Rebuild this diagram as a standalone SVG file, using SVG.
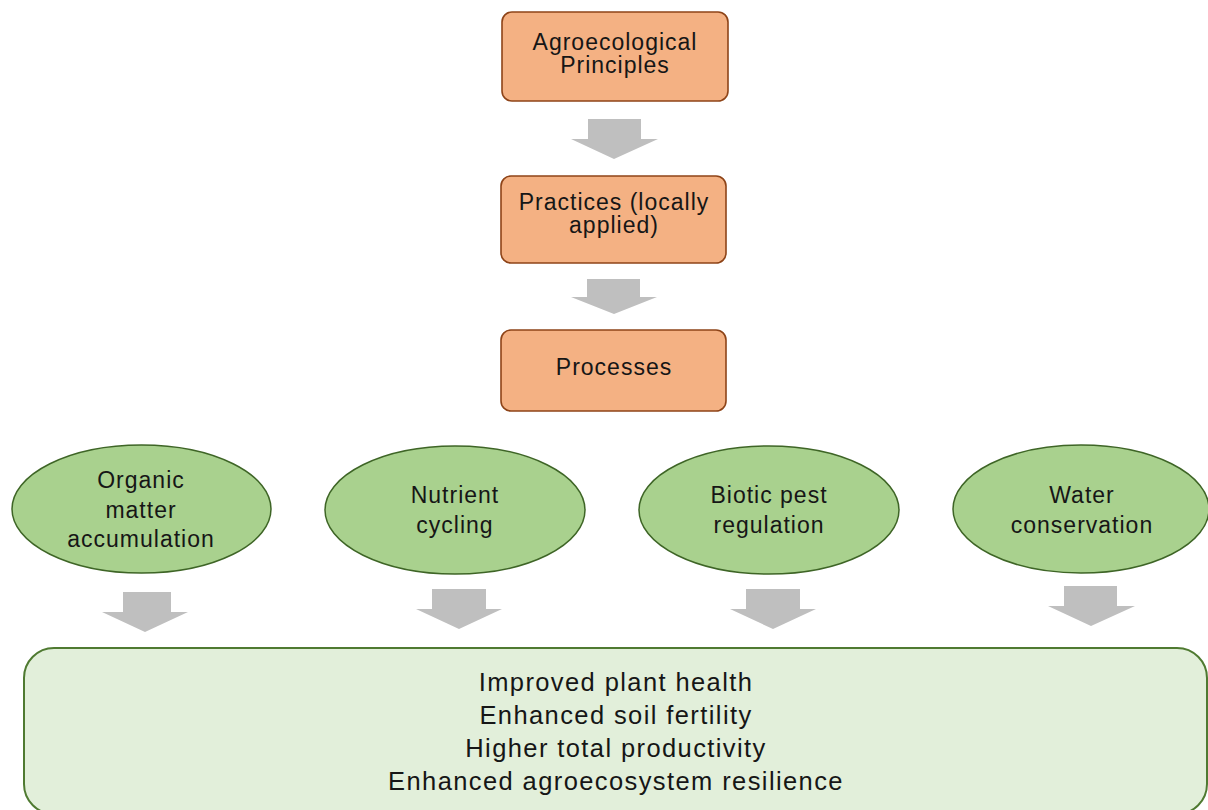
<svg xmlns="http://www.w3.org/2000/svg" width="1208" height="810" viewBox="0 0 1208 810">
  <style>
    text { font-family: "Liberation Sans", Arial, Helvetica, sans-serif; fill: #161616; text-anchor: middle; }
    .t { font-size: 23px; letter-spacing: 1px; }
    .tb { font-size: 25.5px; letter-spacing: 1.4px; }
    .box { fill: #F4B183; stroke: #8E4418; stroke-width: 1.6; }
    .oval { fill: #A9D18E; stroke: #3E6526; stroke-width: 1.5; }
    .result { fill: #E2EFDA; stroke: #4F7A31; stroke-width: 2; }
    .arrow { fill: #BFBFBF; }
  </style>

  <!-- block arrows between stages -->
  <g id="connectors">
    <path class="arrow" d="M588 119 H641 V139 H658 L614 159 L571 139 H588 Z"/>
    <path class="arrow" d="M587 279 H640 V297 H657 L614 314 L571 297 H587 Z"/>
    <path class="arrow" d="M123 592 H171 V612 H188 L145 632 L102 612 H123 Z"/>
    <path class="arrow" d="M432 589 H486 V609 H502 L459 629 L416 609 H432 Z"/>
    <path class="arrow" d="M746 589 H800 V609 H816 L773 629 L730 609 H746 Z"/>
    <path class="arrow" d="M1064 586 H1117 V606 H1135 L1091 626 L1048 606 H1064 Z"/>
  </g>

  <g id="principles">
    <rect class="box" x="502" y="12" width="226" height="89" rx="10"/>
    <text class="t" x="615" y="50">Agroecological</text>
    <text class="t" x="615" y="73">Principles</text>
  </g>

  <g id="practices">
    <rect class="box" x="501" y="176" width="225" height="87" rx="10"/>
    <text class="t" x="614" y="210">Practices (locally</text>
    <text class="t" x="614" y="233">applied)</text>
  </g>

  <g id="processes">
    <rect class="box" x="501" y="330" width="225" height="81" rx="10"/>
    <text class="t" x="614" y="375">Processes</text>
  </g>

  <g id="organic-matter">
    <ellipse class="oval" cx="141.5" cy="509" rx="129.5" ry="64"/>
    <text class="t" x="141" y="488">Organic</text>
    <text class="t" x="141" y="518">matter</text>
    <text class="t" x="141" y="547">accumulation</text>
  </g>

  <g id="nutrient-cycling">
    <ellipse class="oval" cx="455" cy="510" rx="130" ry="64"/>
    <text class="t" x="455" y="503">Nutrient</text>
    <text class="t" x="455" y="533">cycling</text>
  </g>

  <g id="pest-regulation">
    <ellipse class="oval" cx="769" cy="510" rx="130" ry="64"/>
    <text class="t" x="769" y="503">Biotic pest</text>
    <text class="t" x="769" y="533">regulation</text>
  </g>

  <g id="water-conservation">
    <ellipse class="oval" cx="1081" cy="509" rx="128" ry="64"/>
    <text class="t" x="1082" y="503">Water</text>
    <text class="t" x="1082" y="533">conservation</text>
  </g>

  <g id="outcomes">
    <rect class="result" x="24" y="648" width="1183" height="166" rx="30"/>
    <text class="tb" x="616" y="691">Improved plant health</text>
    <text class="tb" x="616" y="724">Enhanced soil fertility</text>
    <text class="tb" x="616" y="757">Higher total productivity</text>
    <text class="tb" x="616" y="790">Enhanced agroecosystem resilience</text>
  </g>
</svg>
